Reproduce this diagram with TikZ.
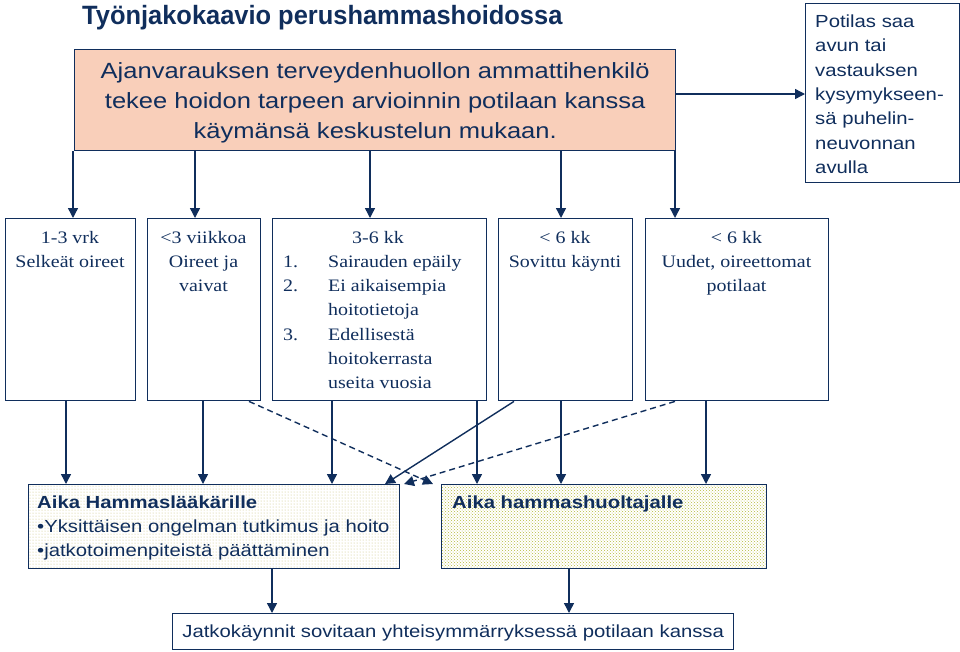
\documentclass[tikz,border=0pt]{standalone}
\usepackage{fontspec}
\setmainfont[FakeStretch=1.14]{Liberation Serif}
\newfontfamily\arial[FakeStretch=1.16]{Liberation Sans}
\newfontfamily\arialt[FakeStretch=0.96]{Liberation Sans}
\usetikzlibrary{arrows.meta,patterns}
\definecolor{navy}{RGB}{16,46,92}
\definecolor{peach}{RGB}{249,207,186}
\definecolor{dotc}{RGB}{200,190,120}
\definecolor{chevc}{RGB}{180,186,60}
\begin{document}
\begin{tikzpicture}[x=1pt,y=-1pt,
  bx/.style={draw=navy, line width=1.4pt, inner sep=0pt, anchor=north west},
  arr/.style={draw=navy, line width=1.4pt, -{Triangle[length=10pt,width=10pt]}},
  dsh/.style={arr, dash pattern=on 6pt off 4pt},
  sans/.style={text=navy, inner sep=0pt, font=\arial\fontsize{17.5}{24.4}\selectfont},
  serif/.style={text=navy, inner sep=0pt, font=\fontsize{17.5}{24.2}\selectfont}]
\useasboundingbox (0,0) rectangle (960,651);

\node[anchor=base west, text=navy, inner sep=0pt, font=\arialt\bfseries\fontsize{26.5}{30}\selectfont] (title) at (82,24.5) {Työnjakokaavio perushammashoidossa};

\node[bx, fill=peach, minimum width=601pt, minimum height=101pt] (top) at (74,49) {};
\node[text=navy, inner sep=0pt, align=center, font=\arial\fontsize{22}{30}\selectfont] (toptxt) at ([yshift=-2.8pt]top.center) {Ajanvarauksen terveydenhuollon ammattihenkilö\\tekee hoidon tarpeen arvioinnin potilaan kanssa\\käymänsä keskustelun mukaan.};

\node[bx, minimum width=154pt, minimum height=179pt] (right) at (805,3) {};
\node[sans, anchor=north west, align=left] (righttxt) at (815,14.5) {Potilas saa\\avun tai\\vastauksen\\kysymykseen-\\sä puhelin-\\neuvonnan\\avulla};

\node[bx, minimum width=130pt, minimum height=182pt] (b1) at (5,218) {};
\node[bx, minimum width=113pt, minimum height=182pt] (b2) at (147,218) {};
\node[bx, minimum width=214pt, minimum height=182pt] (b3) at (272,218) {};
\node[bx, minimum width=134pt, minimum height=182pt] (b4) at (498,218) {};
\node[bx, minimum width=183pt, minimum height=182pt] (b5) at (645,218) {};

\node[serif, anchor=north, align=center] (t1) at (70,231) {1-3 vrk\\Selkeät oireet};
\node[serif, anchor=north, align=center] (t2) at (203.5,231) {<3 viikkoa\\Oireet ja\\vaivat};
\node[serif, anchor=north, align=center] (t3) at (378,231) {3-6 kk};
\node[serif, anchor=north west, align=left] (t3l) at (283,255.2) {\makebox[45pt][l]{1.}Sairauden epäily\\\makebox[45pt][l]{2.}Ei aikaisempia\\\makebox[45pt][l]{}hoitotietoja\\\makebox[45pt][l]{3.}Edellisestä\\\makebox[45pt][l]{}hoitokerrasta\\\makebox[45pt][l]{}useita vuosia};
\node[serif, anchor=north, align=center] (t4) at (565,231) {< 6 kk\\Sovittu käynti};
\node[serif, anchor=north, align=center] (t5) at (736.5,231) {< 6 kk\\Uudet, oireettomat\\potilaat};

\node[bx, pattern=dots, pattern color=dotc, minimum width=371pt, minimum height=84pt] (L) at (28,484) {};
\node[bx, pattern=crosshatch dots, pattern color=chevc, minimum width=325pt, minimum height=84pt] (H) at (441,484) {};
\node[sans, anchor=north west, align=left] (Ltxt) at (37,495.3) {\textbf{Aika Hammaslääkärille}\\•Yksittäisen ongelman tutkimus ja hoito\\•jatkotoimenpiteistä päättäminen};
\node[sans, anchor=north west, align=left] (Htxt) at (452,495.3) {\textbf{Aika hammashuoltajalle}};

\node[bx, minimum width=561pt, minimum height=36pt] (bot) at (172,613) {};
\node[sans] (bottxt) at ([yshift=-1.5pt]bot.center) {Jatkokäynnit sovitaan yhteisymmärryksessä potilaan kanssa};

% top -> row 2
\draw[arr] (top.south -| 73,0) -- (b1.north -| 73,0);
\draw[arr] (top.south -| 195,0) -- (b2.north -| 195,0);
\draw[arr] (top.south -| 370,0) -- (b3.north -| 370,0);
\draw[arr] (top.south -| 561,0) -- (b4.north -| 561,0);
\draw[arr] (top.south -| 675,0) -- (b5.north -| 675,0);
\draw[arr] (top.east |- 0,94) -- (right.west |- 0,94);

% row 2 -> row 3
\draw[arr] (b1.south -| 66,0) -- (L.north -| 66,0);
\draw[arr] (b2.south -| 203,0) -- (L.north -| 203,0);
\draw[arr] (b3.south -| 332,0) -- (L.north -| 332,0);
\draw[arr] (b3.south -| 477,0) -- (H.north -| 477,0);
\draw[arr] (b4.south -| 561,0) -- (H.north -| 561,0);
\draw[arr] (b5.south -| 706,0) -- (H.north -| 706,0);
\draw[dsh] (b2.south -| 249,0) -- (H.north -| 433,0);
\draw[arr] (b4.south -| 514,0) -- (L.north -| 385,0);
\draw[dsh] (b5.south -| 675,0) -- (L.north -| 404,0);

% row 3 -> bottom
\draw[arr] (L.south -| 272,0) -- (bot.north -| 272,0);
\draw[arr] (H.south -| 569,0) -- (bot.north -| 569,0);
\end{tikzpicture}
\end{document}
